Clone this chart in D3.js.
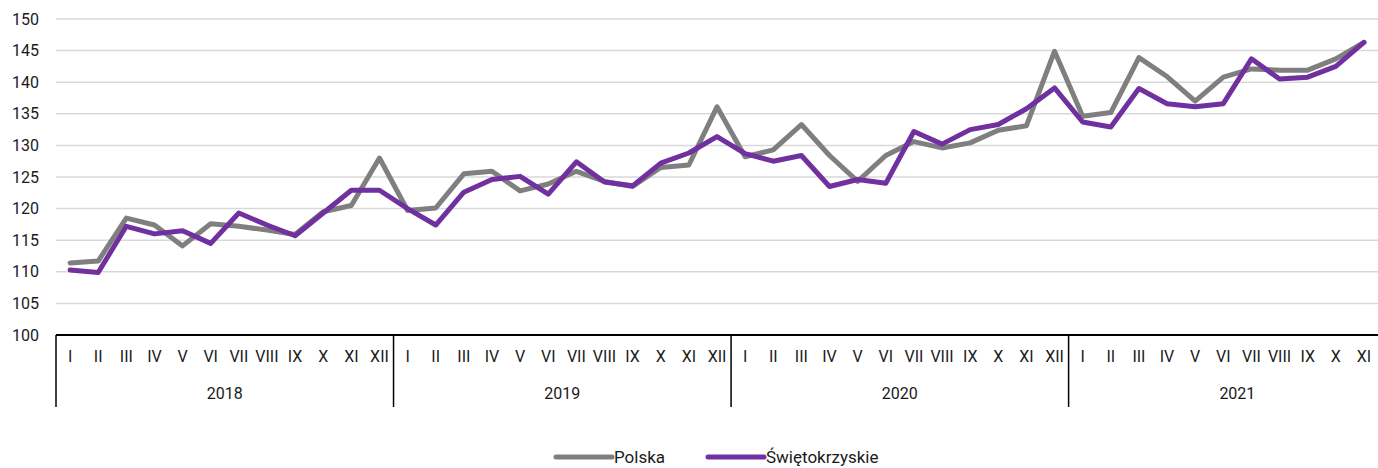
<!DOCTYPE html>
<html>
<head>
<meta charset="utf-8">
<script src="https://cdn.jsdelivr.net/npm/d3@7"></script>
<style>
  body { margin: 0; background: #fff; }
  text { font-family: Roboto, "Noto Sans", sans-serif; fill: #1a1a1a; }
</style>
</head>
<body>
<script>
// data
const years = ['2018', '2019', '2020', '2021']
const months = ['I','II','III','IV','V','VI','VII','VIII','IX','X','XI','XII']
const months_per_year = [12, 12, 12, 11]
const series_names = ['Polska', 'Świętokrzyskie']
const series_colors = ['#7f7f7f', '#7030a0']
const polska = [
    111.4, 111.7, 118.5, 117.4, 114.1, 117.6, 117.2, 116.6, 115.9, 119.5, 120.5, 128.0,
    119.7, 120.1, 125.5, 125.9, 122.8, 123.9, 125.9, 124.3, 123.5, 126.5, 126.9, 136.1,
    128.2, 129.3, 133.3, 128.4, 124.3, 128.4, 130.6, 129.6, 130.4, 132.4, 133.1, 144.9,
    134.6, 135.2, 143.9, 140.9, 137.0, 140.8, 142.1, 141.9, 141.9, 143.7, 146.3
]
const swietokrzyskie = [
    110.3, 109.9, 117.2, 116.0, 116.5, 114.5, 119.3, 117.4, 115.7, 119.3, 122.9, 122.9,
    120.0, 117.4, 122.6, 124.6, 125.1, 122.3, 127.4, 124.2, 123.6, 127.2, 128.8, 131.4,
    128.7, 127.5, 128.4, 123.5, 124.6, 124.0, 132.2, 130.2, 132.5, 133.3, 135.8, 139.1,
    133.7, 132.9, 139.0, 136.6, 136.1, 136.6, 143.7, 140.5, 140.8, 142.5, 146.3
]
const y_ticks = d3.range(100, 151, 5)

// layout
const width = 1378, height = 468
const plot = {left: 56, right: 1378, top: 19, bottom: 335}

// build the category list (year, month)
const cats = []
years.forEach((yr, yi) => {
    for(let m=0; m<months_per_year[yi]; m++) cats.push({year: yr, month: months[m], key: yr + '-' + m})
})

const svg = d3.select('body').append('svg')
    .attr('width', width)
    .attr('height', height)

const x = d3.scaleBand()
    .domain(cats.map(d => d.key))
    .range([plot.left, plot.right])
const y = d3.scaleLinear().domain([100, 150]).range([plot.bottom, plot.top])

// gridlines
svg.append('g')
    .selectAll('line')
    .data(y_ticks.filter(t => t > 100))
    .enter()
    .append('line')
    .attr('x1', plot.left)
    .attr('x2', plot.right)
    .attr('y1', d => y(d))
    .attr('y2', d => y(d))
    .style('stroke', '#d9d9d9')
    .style('stroke-width', 1.5)

// y axis labels
const y_axis = svg.append('g')
    .attr('transform', `translate(${plot.left - 17},0)`)
    .call(d3.axisLeft(y).tickValues(y_ticks).tickSize(0).tickPadding(0))
y_axis.select('.domain').remove()
y_axis.selectAll('text')
    .style('font-size', '16px')
    .style('font-family', 'Roboto, sans-serif')
    .attr('fill', '#1a1a1a')

// category axis line
svg.append('line')
    .attr('x1', plot.left)
    .attr('x2', plot.right)
    .attr('y1', plot.bottom)
    .attr('y2', plot.bottom)
    .style('stroke', '#000')
    .style('stroke-width', 2)

// month labels
svg.append('g')
    .selectAll('text')
    .data(cats)
    .enter()
    .append('text')
    .attr('x', d => x(d.key) + x.bandwidth()/2)
    .attr('y', 362)
    .attr('text-anchor', 'middle')
    .style('font-size', '16px')
    .text(d => d.month)

// year separators and labels
const year_starts = years.map(yr => cats.find(c => c.year == yr).key)
svg.append('g')
    .selectAll('line')
    .data(year_starts)
    .enter()
    .append('line')
    .attr('x1', d => x(d))
    .attr('x2', d => x(d))
    .attr('y1', plot.bottom)
    .attr('y2', 407)
    .style('stroke', '#000')
    .style('stroke-width', 1.5)

svg.append('g')
    .selectAll('text')
    .data(years)
    .enter()
    .append('text')
    .attr('x', yr => {
        const first = cats.find(c => c.year == yr).key
        return x(first) + 12 * x.bandwidth() / 2
    })
    .attr('y', 399)
    .attr('text-anchor', 'middle')
    .style('font-size', '16px')
    .text(d => d)

// lines
const line = d3.line()
    .x((_, i) => x(cats[i].key) + x.bandwidth()/2)
    .y(d => y(d))

;[polska, swietokrzyskie].forEach((values, i) => {
    svg.append('path')
        .datum(values)
        .attr('d', line)
        .style('fill', 'none')
        .style('stroke', series_colors[i])
        .style('stroke-width', 5)
        .style('stroke-linejoin', 'round')
        .style('stroke-linecap', 'round')
})

// legend
const legend_x = [556, 708]
series_names.forEach((name, i) => {
    const g = svg.append('g').attr('transform', `translate(${legend_x[i]},457)`)
    g.append('line')
        .attr('x1', 0)
        .attr('x2', 56)
        .style('stroke', series_colors[i])
        .style('stroke-width', 5)
        .style('stroke-linecap', 'round')
    g.append('text')
        .attr('x', 58)
        .attr('y', 6)
        .style('font-size', '17px')
        .text(name)
})
</script>
</body>
</html>
